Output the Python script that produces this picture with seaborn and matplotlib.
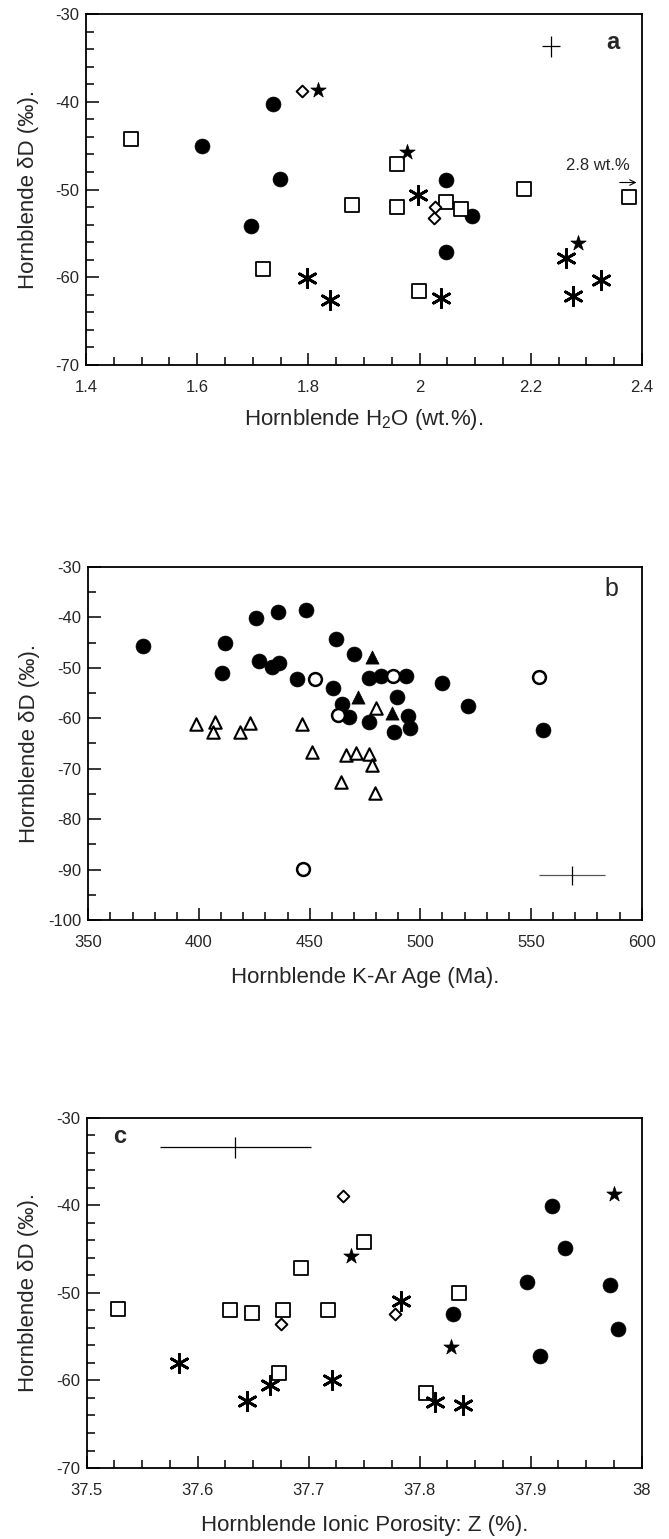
import matplotlib
matplotlib.use("Agg")
import matplotlib.pyplot as plt
from matplotlib.ticker import MultipleLocator, FormatStrFormatter
import pandas as pd
import seaborn as sns

sns.set_style("ticks")
plt.rcParams['font.family'] = ['Liberation Sans', 'DejaVu Sans']
plt.rcParams['mathtext.fontset'] = 'custom'
plt.rcParams['mathtext.rm'] = 'Liberation Sans'
plt.rcParams['axes.unicode_minus'] = False

# ---- panel a : hornblende H2O (wt.%) vs dD
a_circle_x = [1.609, 1.737, 1.749, 1.697, 2.047, 2.095, 2.047]
a_circle_y = [-45.0, -40.2, -48.8, -54.1, -48.9, -53.0, -57.1]
a_square_x = [1.480, 1.878, 1.718, 1.959, 1.959, 2.047, 2.074, 2.187, 2.377, 1.999]
a_square_y = [-44.2, -51.8, -59.1, -47.1, -52.0, -51.4, -52.2, -49.9, -50.9, -61.6]
a_diamond_x = [1.789, 2.028, 2.026]
a_diamond_y = [-38.8, -52.0, -53.3]
a_star_x = [1.818, 1.977, 2.285]
a_star_y = [-38.7, -45.7, -56.1]
a_aster_x = [1.797, 1.839, 1.997, 2.264, 2.327, 2.276, 2.038]
a_aster_y = [-60.1, -62.6, -50.6, -57.8, -60.3, -62.1, -62.4]
a_err = [2.236, -33.7, 0.016, 1.2]  # x, y, xerr, yerr

# ---- panel b : K-Ar age vs dD
b_circle_x = [374.8, 411.8, 410.5, 425.8, 427.1, 432.8, 436.3, 435.5, 448.3, 461.9,
              470.0, 444.4, 460.7, 476.8, 482.1, 493.4, 509.6, 464.7, 489.3, 467.8,
              476.8, 494.3, 495.3, 488.1, 521.7, 555.6]
b_circle_y = [-45.6, -45.1, -51.0, -40.2, -48.6, -49.9, -49.0, -38.9, -38.5, -44.2,
              -47.3, -52.2, -53.9, -52.1, -51.7, -51.7, -53.1, -57.1, -55.7, -59.7,
              -60.7, -59.5, -61.9, -62.8, -57.5, -62.3]
b_opencircle_x = [452.2, 487.8, 462.9, 553.6, 447.1]
b_opencircle_y = [-52.2, -51.7, -59.4, -51.8, -89.8]
b_tri_x = [478.0, 471.7, 487.3]
b_tri_y = [-47.8, -55.7, -59.0]
b_opentri_x = [398.5, 407.2, 406.5, 418.5, 423.0, 446.4, 451.2, 466.4, 470.9, 477.0,
               478.0, 464.3, 479.5, 479.8]
b_opentri_y = [-61.2, -60.8, -62.8, -62.7, -61.0, -61.2, -66.6, -67.3, -66.9, -67.0,
               -69.3, -72.6, -74.9, -58.0]
b_err = [568.4, -91.1, 14.8, 1.9]

# ---- panel c : ionic porosity Z (%) vs dD
c_circle_x = [37.919, 37.931, 37.897, 37.971, 37.979, 37.908, 37.830]
c_circle_y = [-40.1, -44.9, -48.8, -49.1, -54.1, -57.2, -52.4]
c_square_x = [37.528, 37.629, 37.649, 37.677, 37.693, 37.717, 37.750, 37.835, 37.806, 37.673]
c_square_y = [-51.8, -52.0, -52.3, -52.0, -47.2, -52.0, -44.2, -50.0, -61.4, -59.1]
c_diamond_x = [37.731, 37.675, 37.778]
c_diamond_y = [-38.9, -53.6, -52.4]
c_star_x = [37.975, 37.738, 37.828]
c_star_y = [-38.7, -45.8, -56.2]
c_aster_x = [37.583, 37.644, 37.665, 37.721, 37.783, 37.814, 37.839]
c_aster_y = [-58.0, -62.3, -60.5, -59.9, -50.9, -62.5, -62.8]
c_err = [37.634, -33.4, 0.068, 1.24]

# marker look per group
styles = {
    "circle":      dict(marker="o", s=115, color="black", edgecolor="black", linewidth=0.5),
    "square":      dict(marker="s", s=95, color="white", edgecolor="black", linewidth=1.3),
    "diamond":     dict(marker="D", s=36, color="white", edgecolor="black", linewidth=1.4),
    "star":        dict(marker="*", s=135, color="black", edgecolor="black", linewidth=0.5),
    "aster":       dict(marker=(6, 2, 0), s=175, color="black", edgecolor="black", linewidth=2.0),
    "opencircle":  dict(marker="o", s=85, color="white", edgecolor="black", linewidth=1.8),
    "tri":         dict(marker="^", s=90, color="black", edgecolor="black", linewidth=0.5),
    "opentri":     dict(marker="^", s=80, color="white", edgecolor="black", linewidth=1.5),
}


def frame(groups):
    rows = []
    for name, xs, ys in groups:
        for x, y in zip(xs, ys):
            rows.append({"group": name, "x": x, "y": y})
    return pd.DataFrame(rows)


def draw(ax, df, order):
    for g in order:
        sub = df[df.group == g]
        sns.scatterplot(data=sub, x="x", y="y", ax=ax, legend=False, zorder=3, **styles[g])


def cross(ax, err, hcolor="black"):
    x, y, xe, ye = err
    ax.errorbar([x], [y], xerr=[xe], fmt="none", ecolor=hcolor, elinewidth=0.9, capsize=0)
    ax.errorbar([x], [y], yerr=[ye], fmt="none", ecolor="black", elinewidth=0.9, capsize=0)


def style_axes(ax, xlim, ylim, xmaj, xmin, ymaj, ymin, xfmt):
    ax.set_xlim(*xlim)
    ax.set_ylim(*ylim)
    ax.xaxis.set_major_locator(MultipleLocator(xmaj))
    ax.xaxis.set_minor_locator(MultipleLocator(xmin))
    ax.yaxis.set_major_locator(MultipleLocator(ymaj))
    ax.yaxis.set_minor_locator(MultipleLocator(ymin))
    ax.xaxis.set_major_formatter(FormatStrFormatter(xfmt))
    ax.yaxis.set_major_formatter(FormatStrFormatter("%g"))
    ax.tick_params(which="both", direction="in", top=False, right=False, width=1.1, color="black")
    ax.tick_params(which="major", length=9)
    ax.tick_params(which="minor", length=6)
    ax.tick_params(axis="x", which="major", labelsize=12, pad=11)
    ax.tick_params(axis="y", which="major", labelsize=12, pad=5)
    for sp in ax.spines.values():
        sp.set_visible(True)
        sp.set_linewidth(1.3)
        sp.set_color("black")


fig = plt.figure(figsize=(6.69, 15.39), dpi=100)
ylab = "Hornblende δD (‰)."

# panel a
ax = fig.add_axes([0.1286, 0.7628, 0.8311, 0.2281])
df_a = frame([("circle", a_circle_x, a_circle_y), ("square", a_square_x, a_square_y),
              ("diamond", a_diamond_x, a_diamond_y), ("star", a_star_x, a_star_y),
              ("aster", a_aster_x, a_aster_y)])
draw(ax, df_a, ["circle", "square", "diamond", "star", "aster"])
cross(ax, a_err)
style_axes(ax, (1.4, 2.4), (-70, -30), 0.2, 0.05, 10, 2, "%g")
ax.set_xlabel("Hornblende H$_2$O (wt.%).", fontsize=16, va="center")
ax.set_ylabel(ylab, fontsize=16, va="center")
ax.xaxis.set_label_coords(0.5, -0.155)
ax.yaxis.set_label_coords(-0.104, 0.5)
ax.text(0.948, 0.92, "a", transform=ax.transAxes, fontsize=17, fontweight="bold",
        ha="center", va="center")
ax.text(2.321, -47.3, "2.8 wt.%", fontsize=12, ha="center", va="center")
ax.annotate("", xy=(2.395, -49.2), xytext=(2.355, -49.2),
            arrowprops=dict(arrowstyle="->", lw=0.8, color="black"))

# panel b
ax = fig.add_axes([0.1320, 0.4022, 0.8272, 0.2294])
df_b = frame([("circle", b_circle_x, b_circle_y), ("opencircle", b_opencircle_x, b_opencircle_y),
              ("tri", b_tri_x, b_tri_y), ("opentri", b_opentri_x, b_opentri_y)])
draw(ax, df_b, ["opentri", "circle", "opencircle", "tri"])
cross(ax, b_err, hcolor="#555555")
style_axes(ax, (350, 600), (-100, -30), 50, 10, 10, 5, "%g")
ax.set_xlabel("Hornblende K-Ar Age (Ma).", fontsize=16, va="center")
ax.set_ylabel(ylab, fontsize=16, va="center")
ax.xaxis.set_label_coords(0.5, -0.163)
ax.yaxis.set_label_coords(-0.107, 0.5)
ax.text(0.946, 0.937, "b", transform=ax.transAxes, fontsize=18,
        ha="center", va="center")

# panel c
ax = fig.add_axes([0.1296, 0.0461, 0.8296, 0.2277])
df_c = frame([("circle", c_circle_x, c_circle_y), ("square", c_square_x, c_square_y),
              ("diamond", c_diamond_x, c_diamond_y), ("star", c_star_x, c_star_y),
              ("aster", c_aster_x, c_aster_y)])
draw(ax, df_c, ["circle", "square", "diamond", "star", "aster"])
cross(ax, c_err)
style_axes(ax, (37.5, 38.0), (-70, -30), 0.1, 0.025, 10, 2, "%g")
ax.set_xlabel("Hornblende Ionic Porosity: Z (%).", fontsize=16, va="center")
ax.set_ylabel(ylab, fontsize=16, va="center")
ax.xaxis.set_label_coords(0.5, -0.163)
ax.yaxis.set_label_coords(-0.104, 0.5)
ax.text(0.06, 0.945, "c", transform=ax.transAxes, fontsize=17, fontweight="bold",
        ha="center", va="center")

fig.savefig("out.png", dpi=100)
